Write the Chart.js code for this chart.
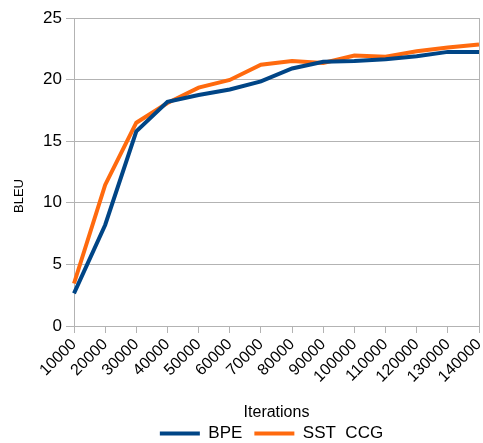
<!DOCTYPE html>
<html>
<head>
<meta charset="utf-8">
<script src="https://cdn.jsdelivr.net/npm/chart.js@4/dist/chart.umd.min.js"></script>
<style>
  html, body { margin: 0; padding: 0; background: #fff; }
  #wrap { width: 483px; height: 443px; }
</style>
</head>
<body>
<div id="wrap"><canvas id="bleuChart" width="483" height="443"></canvas></div>
<script>
// Datos del grafico
const iterations = ['10000', '20000', '30000', '40000', '50000', '60000', '70000',
                    '80000', '90000', '100000', '110000', '120000', '130000', '140000'];
const bpe    = [2.65, 8.2, 15.8, 18.2, 18.75, 19.2, 19.85, 20.9, 21.45, 21.5, 21.65, 21.9, 22.25, 22.25];
const sstCcg = [3.45, 11.45, 16.5, 18.1, 19.35, 19.97, 21.2, 21.5, 21.35, 21.95, 21.85, 22.3, 22.6, 22.85];
const yTicks = [0, 5, 10, 15, 20, 25];

const gridColor = '#b3b3b3';
const font = 'Liberation Sans, Arial, sans-serif';

// Borde derecho del area y titulo del eje Y (centrado como en el original)
const extras = {
    id: 'extras',
    afterLayout(chart) {
        // mover la leyenda para centrarla bajo el area del grafico
        chart.legend.left += 32;
        chart.legend.right += 32;
    },
    afterDraw(chart) {
        const a = chart.chartArea;
        const ctx = chart.ctx;
        ctx.save();
        ctx.strokeStyle = gridColor;
        ctx.lineWidth = 1;
        ctx.beginPath();
        ctx.moveTo(Math.round(a.right) + 0.5, a.top);
        ctx.lineTo(Math.round(a.right) + 0.5, a.bottom);
        ctx.stroke();

        ctx.translate(19, 196);
        ctx.rotate(-Math.PI / 2);
        ctx.fillStyle = '#000';
        ctx.font = '13px ' + font;
        ctx.textAlign = 'center';
        ctx.textBaseline = 'middle';
        ctx.fillText('BLEU', 0, 0);
        ctx.restore();
    }
};

const ctx = document.getElementById('bleuChart').getContext('2d');
new Chart(ctx, {
    type: 'line',
    data: {
        labels: iterations,
        datasets: [{
            label: 'BPE',
            data: bpe,
            borderColor: '#004586',
            backgroundColor: '#004586',
            borderWidth: 4,
            pointRadius: 0,
            tension: 0
        }, {
            label: 'SST  CCG',
            data: sstCcg,
            borderColor: '#ff6a0e',
            backgroundColor: '#ff6a0e',
            borderWidth: 4,
            pointRadius: 0,
            tension: 0
        }]
    },
    options: {
        responsive: false,
        animation: false,
        layout: { padding: { top: 18, right: 4, bottom: 0, left: 0 } },
        plugins: {
            legend: {
                position: 'bottom',
                maxHeight: 30,
                labels: {
                    boxWidth: 40,
                    boxHeight: 4,
                    padding: 12,
                    color: '#000',
                    font: { family: font, size: 17 },
                    generateLabels(chart) {
                        return Chart.defaults.plugins.legend.labels.generateLabels(chart)
                            .map(item => Object.assign(item, { lineWidth: 0 }));
                    }
                }
            },
            tooltip: { enabled: false }
        },
        scales: {
            x: {
                offset: false,
                grid: { drawOnChartArea: false, color: gridColor, tickLength: 7 },
                border: { color: gridColor },
                ticks: {
                    autoSkip: false,
                    minRotation: 45, maxRotation: 45, padding: 2,
                    color: '#000', font: { family: font, size: 16 }
                },
                title: {
                    display: true, text: 'Iterations', color: '#000',
                    font: { family: font, size: 16 }, padding: { top: 0, bottom: -9 }
                },
                afterFit(scale) {
                    scale.height = 87;
                    scale.paddingLeft = 0;
                    scale.paddingRight = 0;
                }
            },
            y: {
                min: 0, max: 25,
                afterBuildTicks(scale) { scale.ticks = yTicks.map(v => ({ value: v })); },
                grid: { color: gridColor, tickLength: 8 },
                border: { color: gridColor },
                ticks: { padding: 4, color: '#000', font: { family: font, size: 17 } },
                title: { display: false },
                afterFit(scale) { scale.width = 74; }
            }
        }
    },
    plugins: [extras]
});
</script>
</body>
</html>
